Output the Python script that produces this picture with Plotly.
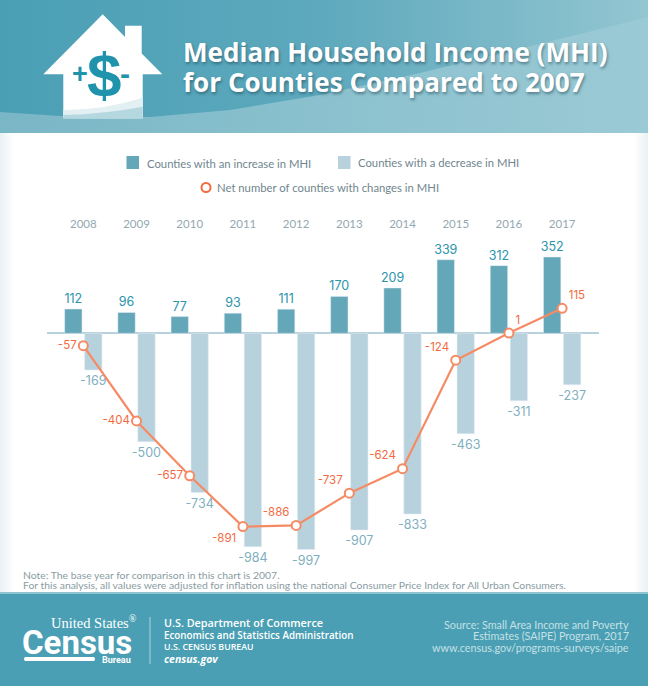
import plotly.graph_objs as go

years = ['2008', '2009', '2010', '2011', '2012', '2013', '2014', '2015', '2016', '2017']
increase = [112, 96, 77, 93, 111, 170, 209, 339, 312, 352]
decrease = [-169, -500, -734, -984, -997, -907, -833, -463, -311, -237]
net = [-57, -404, -657, -891, -886, -737, -624, -124, 1, 115]
net_text_position = ['middle left', 'middle left', 'middle left', 'bottom left', 'top left',
                     'top left', 'top left', 'top left', 'top right', 'top right']

teal = '#4A9FB4'
light_teal = '#8FC3CF'

# header and side shading, drawn in picture pixels on the first pair of axes
trace_header = go.Scatter(
    x=[0, 648, 648, 0, 0],
    y=[0, 0, 133, 133, 0],
    mode='lines',
    hoverinfo="none",
    showlegend=False,
    line=dict(
        width=0
    ),
    fill='toself',
    fillgradient=dict(
        type='horizontal',
        colorscale=[[0, '#4A9FB4'], [0.5, '#5EA9BD'], [1, '#93C6D1']]
    )
)

trace_wave = go.Scatter(
    x=[0, 60, 150, 230, 320, 420, 540, 648, 648, 0, 0],
    y=[112, 116, 117, 110, 95, 73, 44, 17, 133, 133, 112],
    mode='lines',
    hoverinfo="none",
    showlegend=False,
    line=dict(
        width=0
    ),
    fill='toself',
    fillgradient=dict(
        type='horizontal',
        colorscale=[[0, '#79B6C6'], [0.5, '#8BC1CE'], [1, '#9ACAD5']]
    )
)

trace_left = go.Scatter(
    x=[0, 14, 14, 0, 0],
    y=[133, 133, 593, 593, 133],
    mode='lines',
    hoverinfo="none",
    showlegend=False,
    line=dict(
        width=0
    ),
    fill='toself',
    fillgradient=dict(
        type='horizontal',
        colorscale=[[0, '#E9F1F4'], [1, '#FFFFFF']]
    )
)

trace_right = go.Scatter(
    x=[634, 648, 648, 634, 634],
    y=[133, 133, 593, 593, 133],
    mode='lines',
    hoverinfo="none",
    showlegend=False,
    line=dict(
        width=0
    ),
    fill='toself',
    fillgradient=dict(
        type='horizontal',
        colorscale=[[0, '#FFFFFF'], [1, '#E9F1F4']]
    )
)

trace_increase = go.Bar(
    x=years,
    y=increase,
    name="Counties with an increase in MHI",
    text=increase,
    textposition='outside',
    constraintext='none',
    textfont=dict(
        family='Inter',
        size=12.5,
        color='#2A94AB'
    ),
    cliponaxis=False,
    marker=dict(
        color='#64A7B9'
    ),
    xaxis='x2',
    yaxis='y2'
)

trace_decrease = go.Bar(
    x=years,
    y=decrease,
    name="Counties with a decrease in MHI",
    text=decrease,
    textposition='outside',
    constraintext='none',
    textfont=dict(
        family='Inter',
        size=12.5,
        color='#7FB0C0'
    ),
    cliponaxis=False,
    marker=dict(
        color='#B8D2DD'
    ),
    xaxis='x2',
    yaxis='y2'
)

trace_net = go.Scatter(
    x=years,
    y=net,
    mode='lines+markers+text',
    name="Net number of counties with changes in MHI",
    text=net,
    textposition=net_text_position,
    textfont=dict(
        family='Inter',
        size=11.5,
        color='#F26A3F'
    ),
    cliponaxis=False,
    line=dict(
        color='#F58B64',
        width=2.2
    ),
    marker=dict(
        color='white',
        size=9,
        line=dict(
            color='#F58B64',
            width=2
        )
    ),
    xaxis='x2',
    yaxis='y2'
)

fig = go.Figure(data=[trace_header, trace_wave, trace_left, trace_right,
                      trace_increase, trace_decrease, trace_net])

fig['layout'].update(
    width=648,
    height=686,
    margin=dict(l=0, r=0, t=0, b=0),
    paper_bgcolor='white',
    plot_bgcolor='rgba(0,0,0,0)',
    showlegend=False,
    barmode='group',
    bargap=0.25,
    bargroupgap=0.13,
    xaxis=dict(range=[0, 648], domain=[0, 1], visible=False, fixedrange=True),
    yaxis=dict(range=[686, 0], domain=[0, 1], visible=False, fixedrange=True),
    xaxis2=dict(
        domain=[46.7 / 648, 599 / 648],
        range=[-0.688, 9.693],
        type='category',
        side='top',
        anchor='y2',
        showgrid=False,
        showline=False,
        ticks='',
        tickfont=dict(family='Lato', size=11.5, color='#93A8B0')
    ),
    yaxis2=dict(
        domain=[(686 - 590) / 686, (686 - 231) / 686],
        range=[-1183.5, 471.7],
        anchor='x2',
        showticklabels=False,
        showgrid=False,
        ticks='',
        showline=False,
        zeroline=True,
        zerolinecolor='#B8D2DD',
        zerolinewidth=1.5
    )
)

house = 'M 43.3 74.3 L 102.7 14.3 L 125 37 L 125 25.7 L 141.7 25.7 L 141.7 53.5 L 162.3 74.3 L 142.7 74.3 L 142.7 118.3 L 63.3 118.3 L 63.3 74.3 Z'
swoosh = 'M 63.3 110 Q 105 110 142.7 97.7 L 142.7 118.3 L 63.3 118.3 Z'
swoosh_dark = 'M 63.3 115 Q 105 114 142.7 106.7 L 142.7 118.3 L 63.3 118.3 Z'

shapes = [
    dict(type='path', path=house, fillcolor='white', line=dict(width=0)),
    dict(type='path', path=swoosh, fillcolor='#E2EFF3', line=dict(width=0)),
    dict(type='path', path=swoosh_dark, fillcolor='#B5D8E0', line=dict(width=0)),
    dict(type='rect', x0=0, x1=648, y0=593, y1=686, fillcolor=teal, line=dict(width=0)),  # footer
    dict(type='rect', x0=0, x1=648, y0=592, y1=594, fillcolor=light_teal, line=dict(width=0)),
    dict(type='rect', x0=126.5, x1=139, y0=156, y1=169, fillcolor='#64A7B9', line=dict(width=0)),
    dict(type='rect', x0=338, x1=350.5, y0=156, y1=169, fillcolor='#B8D2DD', line=dict(width=0)),
    dict(type='circle', x0=201.5, x1=210.5, y0=183, y1=192, fillcolor='white',
         line=dict(color='#F26A3F', width=2)),
    dict(type='line', x0=150, x1=150, y0=617, y1=664, line=dict(color='#A9D3DC', width=1)),
    dict(type='path', path='M 25 657 L 94 657 Q 96 659 94 661 L 25 661 Q 23 659 25 657 Z',
         fillcolor='white', line=dict(width=0)),
]
for shape in shapes:
    shape.update(xref='x', yref='y')
fig['layout'].update(shapes=shapes)


def label(x, y, text, size, color, family='Lato', anchor='left', **font):
    """one line of text placed by picture pixels"""
    return dict(x=x, y=y, xref='x', yref='y', text=text, showarrow=False, xanchor=anchor,
                yanchor='middle', xshift={'left': -2, 'right': 2, 'center': 0}[anchor],
                font=dict(family=family, size=size, color=color, **font))


shadow = '1px 2px 3px rgba(30,70,85,0.55)'
annotations = [
    label(183, 52, 'Median Household Income (MHI)', 26.1, 'white', 'Open Sans', weight=700, shadow=shadow),
    label(183, 82, 'for Counties Compared to 2007', 26.1, 'white', 'Open Sans', weight=700, shadow=shadow),
    label(104, 74, '$', 62, '#1E93AB', 'Liberation Sans', 'center', weight='bold'),
    label(80, 74, '+', 27, '#1E93AB', 'Liberation Sans', 'center', weight='bold'),
    label(125, 73, '-', 30, '#1E93AB', 'Liberation Sans', 'center', weight='bold'),
    label(147, 163, trace_increase.name, 11.3, '#6F868E'),
    label(358, 162, trace_decrease.name, 11.3, '#6F868E'),
    label(217.4, 187.5, trace_net.name, 11.3, '#6F868E'),
    label(22.7, 575, 'Note: The base year for comparison in this chart is 2007.', 10.4, '#8A9BA1'),
    label(22.7, 585, 'For this analysis, all values were adjusted for inflation using the national '
                     'Consumer Price Index for All Urban Consumers.', 10.4, '#8A9BA1'),
    label(137, 622, 'United States<sup>®</sup>', 14.5, 'white', 'Liberation Serif', 'right'),
    label(22, 642, 'Census', 33, 'white', 'Roboto', weight='bold'),
    label(131, 660, 'Bureau', 9, 'white', 'Roboto', 'right', weight='bold'),
    label(164, 622.5, 'U.S. Department of Commerce', 10.8, 'white', 'Open Sans', weight=600),
    label(164, 635, 'Economics and Statistics Administration', 9.8, 'white', 'Open Sans', weight=600),
    label(164, 647, 'U.S. CENSUS BUREAU', 8.8, 'white', 'Open Sans', weight=600),
    label(164, 659, 'census.gov', 10.5, 'white', 'Open Sans', weight=700, style='italic'),
    label(629, 624, 'Source: Small Area Income and Poverty', 10.8, '#C5E0E6', 'Lato', 'right'),
    label(629, 635.5, 'Estimates (SAIPE) Program, 2017', 10.8, '#C5E0E6', 'Lato', 'right'),
    label(629, 647, 'www.census.gov/programs-surveys/saipe', 10.8, '#C5E0E6', 'Lato', 'right'),
]
fig['layout'].update(annotations=annotations)

fig.write_html("out.html", config=dict(displayModeBar=False),
               post_script="document.body.style.margin = '0'")
